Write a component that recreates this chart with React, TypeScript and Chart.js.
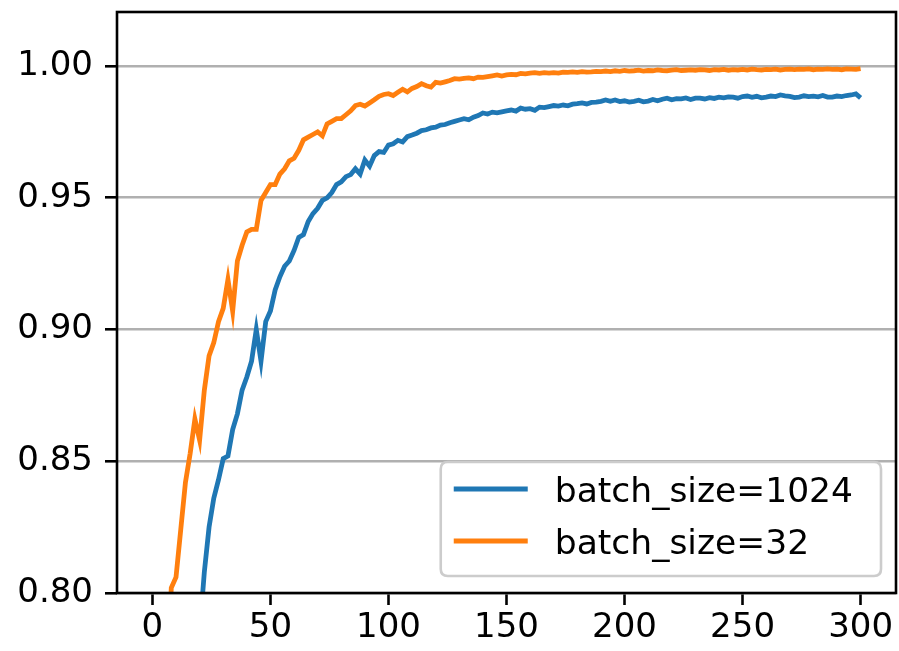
import React, { useEffect, useRef } from "react";
import { Chart, registerables } from "chart.js";

Chart.register(...registerables);

// epochs 0..300, every 2 epochs
const epochs: number[] = Array.from({ length: 151 }, (_, i) => i * 2);

const seriesLabels = ["batch_size=1024", "batch_size=32"];
const seriesColors = ["#1f77b4", "#ff7f0e"];

const acc1024: number[] = [
  0.20, 0.30, 0.40, 0.48, 0.55, 0.61, 0.66, 0.70, 0.73, 0.76,
  0.785, 0.808, 0.825, 0.836, 0.843, 0.851, 0.852, 0.862, 0.868, 0.877,
  0.882, 0.888, 0.900, 0.888, 0.903, 0.907, 0.915, 0.920, 0.924, 0.926,
  0.930, 0.935, 0.936, 0.941, 0.944, 0.946, 0.949, 0.950, 0.952, 0.955,
  0.956, 0.958, 0.9588, 0.961, 0.959, 0.9643, 0.962, 0.966, 0.9675, 0.9672,
  0.970, 0.9705, 0.9718, 0.9712, 0.9732, 0.9738, 0.9745, 0.9755, 0.9758, 0.9765,
  0.9768, 0.9776, 0.9778, 0.9785, 0.979, 0.9795, 0.98, 0.9796, 0.9806, 0.9812,
  0.9822, 0.9818, 0.9825, 0.9822, 0.9826, 0.983, 0.9833, 0.9829, 0.984, 0.9836,
  0.9838, 0.9832, 0.9844, 0.9842, 0.9846, 0.985, 0.9848, 0.9852, 0.9849, 0.9855,
  0.9857, 0.986, 0.9856, 0.9862, 0.9863, 0.9866, 0.9871, 0.9866, 0.9871, 0.9865,
  0.9868, 0.9863, 0.9866, 0.987, 0.9864, 0.9867, 0.9873, 0.9868, 0.9874, 0.9878,
  0.9872, 0.9876, 0.9875, 0.9879, 0.9873, 0.9878, 0.9878, 0.9875, 0.988, 0.9877,
  0.9882, 0.9879, 0.9883, 0.9882, 0.9878, 0.9884, 0.9886, 0.9881, 0.9885, 0.9879,
  0.9882, 0.9886, 0.9884, 0.989, 0.9887, 0.9885, 0.988, 0.9882, 0.9887, 0.9884,
  0.9886, 0.9883, 0.9888, 0.9882, 0.9882, 0.9886, 0.9884, 0.9888, 0.989, 0.9894,
  0.9879,
];

const acc32: number[] = [
  0.42, 0.60, 0.70, 0.765, 0.802, 0.806, 0.824, 0.842, 0.853, 0.866,
  0.858, 0.877, 0.890, 0.895, 0.903, 0.908, 0.919, 0.907, 0.926, 0.932,
  0.937, 0.938, 0.938, 0.949, 0.952, 0.955, 0.955, 0.959, 0.961, 0.964,
  0.965, 0.968, 0.972, 0.973, 0.974, 0.975, 0.9735, 0.978, 0.979, 0.980,
  0.980, 0.9815, 0.983, 0.985, 0.9855, 0.9848, 0.986, 0.9872, 0.9885, 0.9892,
  0.9895, 0.9888, 0.990, 0.9912, 0.9902, 0.9915, 0.9922, 0.9933, 0.9925, 0.992,
  0.9938, 0.9935, 0.994, 0.9945, 0.9952, 0.995, 0.9953, 0.9955, 0.9952, 0.9958,
  0.9957, 0.996, 0.9963, 0.9966, 0.9962, 0.9966, 0.9968, 0.9967, 0.9972, 0.997,
  0.9973, 0.9975, 0.9972, 0.9975, 0.9973, 0.9975, 0.9973, 0.9977, 0.9976, 0.9978,
  0.9976, 0.9979, 0.9977, 0.9978, 0.998, 0.9979, 0.9981, 0.9979, 0.9982, 0.998,
  0.9983, 0.9981, 0.9982, 0.9984, 0.9981, 0.9983, 0.9982, 0.9985, 0.9983, 0.9982,
  0.9984, 0.9986, 0.9983, 0.9984, 0.9985, 0.9984, 0.9986, 0.9985, 0.9983, 0.9986,
  0.9985, 0.9987, 0.9984, 0.9986, 0.9985, 0.9987, 0.9985, 0.9988, 0.9986, 0.9985,
  0.9987, 0.9986, 0.9988, 0.9985, 0.9987, 0.9988, 0.9986, 0.9988, 0.9987, 0.9989,
  0.9986, 0.9988, 0.9987, 0.9989, 0.9987, 0.9988, 0.9986, 0.9989, 0.9988, 0.9987,
  0.999,
];

const xTicks = [0, 50, 100, 150, 200, 250, 300];
const yTicks = [0.8, 0.85, 0.9, 0.95, 1.0];

const FONT = "'DejaVu Sans', sans-serif";

const framePlugin = {
  id: "mplFrame",
  afterDatasetsDraw(chart: any) {
    const { ctx, chartArea: a } = chart;
    ctx.save();
    // spines
    ctx.strokeStyle = "#000";
    ctx.lineWidth = 2.6;
    ctx.strokeRect(a.left, a.top, a.right - a.left, a.bottom - a.top);

    // legend
    const fontSize = 34.5;
    ctx.font = `${fontSize}px ${FONT}`;
    const datasets = chart.data.datasets;
    let maxW = 0;
    datasets.forEach((d: any) => {
      maxW = Math.max(maxW, ctx.measureText(d.label).width);
    });
    const padL = 13, handle = 74, gap = 27, padR = 28;
    const rowH = 52, padT = 27, padB = 35;
    const w = padL + handle + gap + maxW + padR;
    const h = padT + rowH * (datasets.length - 1) + padB;
    const right = a.right - 15;
    const bottom = a.bottom - 17;
    const left = right - w;
    const top = bottom - h;
    const r = 7;
    ctx.beginPath();
    ctx.moveTo(left + r, top);
    ctx.lineTo(right - r, top);
    ctx.quadraticCurveTo(right, top, right, top + r);
    ctx.lineTo(right, bottom - r);
    ctx.quadraticCurveTo(right, bottom, right - r, bottom);
    ctx.lineTo(left + r, bottom);
    ctx.quadraticCurveTo(left, bottom, left, bottom - r);
    ctx.lineTo(left, top + r);
    ctx.quadraticCurveTo(left, top, left + r, top);
    ctx.closePath();
    ctx.fillStyle = "rgba(255,255,255,0.8)";
    ctx.fill();
    ctx.strokeStyle = "#cccccc";
    ctx.lineWidth = 2.6;
    ctx.stroke();

    datasets.forEach((d: any, i: number) => {
      const y = top + padT + i * rowH;
      ctx.strokeStyle = d.borderColor;
      ctx.lineWidth = 4.8;
      ctx.beginPath();
      ctx.moveTo(left + padL, y);
      ctx.lineTo(left + padL + handle, y);
      ctx.stroke();
      ctx.fillStyle = "#000";
      ctx.textBaseline = "alphabetic";
      ctx.textAlign = "left";
      ctx.fillText(d.label, left + padL + handle + gap, y + fontSize * 0.729 / 2);
    });
    ctx.restore();
  },
};

export default function App() {
  const canvasRef = useRef<HTMLCanvasElement | null>(null);

  useEffect(() => {
    if (!canvasRef.current) return;
    const chart = new Chart(canvasRef.current, {
      type: "line",
      data: {
        labels: epochs,
        datasets: [
          {
            label: seriesLabels[0],
            data: epochs.map((e, i) => ({ x: e, y: acc1024[i] })),
            borderColor: seriesColors[0],
            backgroundColor: seriesColors[0],
            borderWidth: 4.8,
            pointRadius: 0,
            tension: 0,
            order: 1,
          },
          {
            label: seriesLabels[1],
            data: epochs.map((e, i) => ({ x: e, y: acc32[i] })),
            borderColor: seriesColors[1],
            backgroundColor: seriesColors[1],
            borderWidth: 4.8,
            pointRadius: 0,
            tension: 0,
            order: 0,
          },
        ],
      },
      options: {
        responsive: false,
        animation: false,
        layout: { padding: { top: 12, right: 3, left: 0, bottom: 0 } },
        plugins: {
          legend: { display: false },
          tooltip: { enabled: false },
          title: { display: false },
        },
        scales: {
          x: {
            type: "linear",
            min: -15,
            max: 315,
            afterBuildTicks: (s: any) => {
              s.ticks = xTicks.map((v) => ({ value: v }));
            },
            afterFit: (s: any) => {
              s.height = 58;
              s.paddingLeft = 0;
              s.paddingRight = 0;
            },
            border: { display: false },
            grid: {
              drawOnChartArea: false,
              drawTicks: true,
              tickLength: 12,
              tickColor: "#000",
              tickWidth: 2.6,
            },
            ticks: {
              color: "#000",
              padding: 3,
              maxRotation: 0,
              autoSkip: false,
              font: { family: FONT, size: 34 },
              callback: (v: any) => String(v),
            },
          },
          y: {
            type: "linear",
            min: 0.8,
            max: 1.0205,
            afterBuildTicks: (s: any) => {
              s.ticks = yTicks.map((v) => ({ value: v }));
            },
            afterFit: (s: any) => {
              s.width = 117;
              s.paddingTop = 0;
              s.paddingBottom = 0;
            },
            border: { display: false },
            grid: {
              color: "#b0b0b0",
              lineWidth: 2.6,
              drawTicks: true,
              tickLength: 12,
              tickColor: "#000",
              tickWidth: 2.6,
            },
            ticks: {
              color: "#000",
              padding: 12,
              autoSkip: false,
              font: { family: FONT, size: 34 },
              callback: (v: any) => Number(v).toFixed(2),
            },
          },
        },
      },
      plugins: [framePlugin],
    } as any);
    return () => chart.destroy();
  }, []);

  return (
    <div style={{ position: "fixed", left: 0, top: 0, width: 899, height: 651, background: "#fff" }}>
      <canvas ref={canvasRef} width={899} height={651} style={{ display: "block" }} />
    </div>
  );
}
